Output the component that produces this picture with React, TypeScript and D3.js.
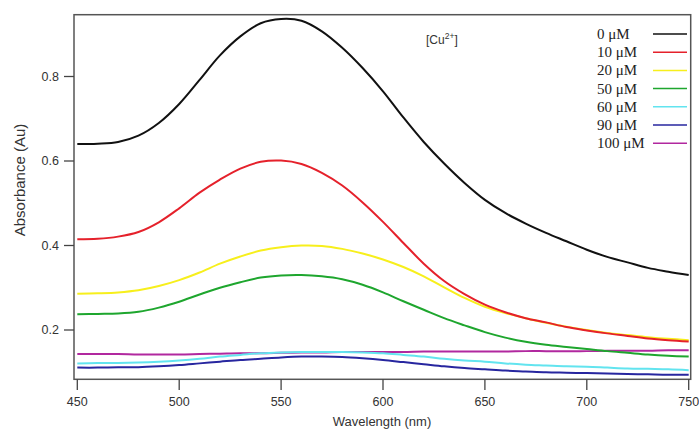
import React from "react";
import * as d3 from "d3";

const wavelengths = [450,460,470,480,490,500,510,520,530,540,550,560,570,580,590,600,610,620,630,640,650,660,670,680,690,700,710,720,730,740,750];

const cu0 = [0.640,0.641,0.645,0.660,0.690,0.735,0.792,0.850,0.895,0.926,0.936,0.932,0.907,0.868,0.820,0.765,0.703,0.645,0.594,0.548,0.508,0.477,0.452,0.430,0.410,0.390,0.373,0.360,0.347,0.338,0.330];
const cu10 = [0.415,0.416,0.421,0.432,0.455,0.488,0.525,0.556,0.582,0.598,0.601,0.593,0.572,0.542,0.502,0.456,0.406,0.357,0.316,0.285,0.260,0.242,0.228,0.218,0.207,0.199,0.192,0.186,0.180,0.176,0.173];
const cu20 = [0.286,0.287,0.289,0.294,0.304,0.318,0.336,0.357,0.374,0.388,0.396,0.400,0.399,0.392,0.381,0.367,0.349,0.327,0.301,0.276,0.255,0.240,0.228,0.217,0.208,0.200,0.193,0.188,0.183,0.179,0.176];
const cu50 = [0.237,0.238,0.239,0.243,0.253,0.267,0.284,0.300,0.313,0.324,0.329,0.330,0.327,0.320,0.307,0.289,0.268,0.248,0.228,0.211,0.195,0.182,0.172,0.165,0.160,0.155,0.150,0.146,0.142,0.139,0.137];
const cu60 = [0.121,0.122,0.122,0.123,0.125,0.128,0.132,0.137,0.141,0.145,0.147,0.148,0.148,0.148,0.147,0.145,0.141,0.137,0.132,0.128,0.125,0.121,0.118,0.116,0.114,0.113,0.111,0.109,0.108,0.107,0.105];
const cu90 = [0.111,0.111,0.112,0.112,0.114,0.117,0.121,0.125,0.129,0.132,0.135,0.137,0.137,0.136,0.133,0.129,0.124,0.119,0.114,0.110,0.107,0.104,0.102,0.100,0.099,0.098,0.097,0.096,0.095,0.094,0.094];
const cu100 = [0.143,0.143,0.143,0.142,0.142,0.142,0.143,0.144,0.145,0.145,0.146,0.147,0.147,0.148,0.148,0.148,0.148,0.149,0.149,0.149,0.149,0.149,0.150,0.150,0.150,0.150,0.151,0.151,0.151,0.152,0.152];

const seriesLabels = ["0 μM","10 μM","20 μM","50 μM","60 μM","90 μM","100 μM"];
const seriesValues = [cu0, cu10, cu20, cu50, cu60, cu90, cu100];
const seriesColors = ["#111111","#e5212b","#f7ef1c","#1ea62e","#62e4ef","#27269f","#b1289f"];
// drawing order: bottom first, black on top
const drawOrder = [6,4,5,3,2,1,0];

const xTicks = [450,500,550,600,650,700,750];
const yTicks = [0.2,0.4,0.6,0.8];

const frame = { left: 74, right: 690.7, top: 14.7, bottom: 379.3 };

export default function App() {
  const x = d3.scaleLinear().domain([450, 750]).range([77.3, 688.7]);
  const y = d3.scaleLinear().domain([0.2, 0.8]).range([330, 76.5]);
  const line = d3.line<number>()
    .x((_, i) => x(wavelengths[i]))
    .y((d) => y(d))
    .curve(d3.curveCatmullRom.alpha(0.5));

  const axisFont = "'Liberation Sans', Arial, sans-serif";
  const serif = "'Liberation Serif', 'Times New Roman', serif";

  return (
    <svg width={699} height={429} style={{ position: "absolute", left: 0, top: 0, background: "#fff" }}>
      <rect x={0} y={0} width={699} height={429} fill="#fff" />
      {drawOrder.map((si) => (
        <path key={si} d={line(seriesValues[si]) || ""} fill="none" stroke={seriesColors[si]} strokeWidth={2} strokeLinejoin="round" />
      ))}
      <rect x={frame.left} y={frame.top} width={frame.right - frame.left} height={frame.bottom - frame.top} fill="none" stroke="#555" strokeWidth={1.5} />
      {yTicks.map((t) => (
        <g key={t}>
          <line x1={64} x2={frame.left} y1={y(t)} y2={y(t)} stroke="#444" strokeWidth={1.3} />
          <text x={59} y={y(t)} dy="0.35em" textAnchor="end" fontFamily={axisFont} fontSize={12.5} fill="#333">{t.toFixed(1)}</text>
        </g>
      ))}
      {xTicks.map((t) => (
        <g key={t}>
          <line x1={x(t)} x2={x(t)} y1={frame.bottom} y2={390} stroke="#444" strokeWidth={1.3} />
          <text x={x(t)} y={402} dy="0.35em" textAnchor="middle" fontFamily={axisFont} fontSize={12.5} fill="#333">{t}</text>
        </g>
      ))}
      <text x={382} y={421} dy="0.35em" textAnchor="middle" fontFamily={axisFont} fontSize={13} fill="#333">Wavelength (nm)</text>
      <text transform="translate(20,180) rotate(-90)" dy="0.35em" textAnchor="middle" fontFamily={axisFont} fontSize={15} fill="#333">Absorbance (Au)</text>
      <text x={426} y={44} fontFamily={axisFont} fontSize={12} fill="#333">
        [Cu<tspan dy={-5} fontSize={8.5}>2+</tspan><tspan dy={5}>]</tspan>
      </text>
      {seriesLabels.map((lab, i) => (
        <g key={lab}>
          <text x={597} y={34 + i * 18.2} dy="0.33em" fontFamily={serif} fontSize={15} fill="#222">{lab}</text>
          <line x1={653} x2={687} y1={34 + i * 18.2} y2={34 + i * 18.2} stroke={seriesColors[i]} strokeWidth={1.5} />
        </g>
      ))}
    </svg>
  );
}
